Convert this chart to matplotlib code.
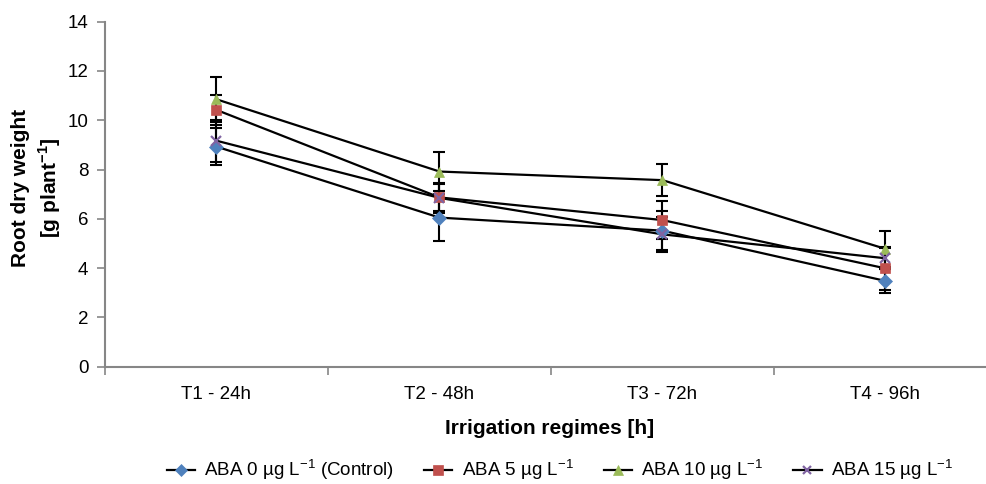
import matplotlib
matplotlib.use("Agg")
import matplotlib.pyplot as plt
from matplotlib.lines import Line2D
import numpy as np

plt.rcParams['font.family'] = ['Liberation Sans', 'DejaVu Sans']
plt.rcParams['mathtext.fontset'] = 'custom'
plt.rcParams['mathtext.rm'] = 'Liberation Sans'
plt.rcParams['mathtext.bf'] = 'Liberation Sans:bold'

categories = ["T1 - 24h", "T2 - 48h", "T3 - 72h", "T4 - 96h"]
series_labels = [r"ABA 0 µg L$^{\mathregular{-1}}$ (Control)",
                 r"ABA 5 µg L$^{\mathregular{-1}}$",
                 r"ABA 10 µg L$^{\mathregular{-1}}$",
                 r"ABA 15 µg L$^{\mathregular{-1}}$"]
aba0 = [8.93, 6.05, 5.52, 3.48]
err0 = [0.75, 0.95, 0.80, 0.50]
aba5 = [10.42, 6.87, 5.95, 3.99]
err5 = [0.60, 0.55, 0.77, 0.88]
aba10 = [10.85, 7.92, 7.57, 4.78]
err10 = [0.90, 0.80, 0.64, 0.73]
aba15 = [9.17, 6.85, 5.37, 4.40]
err15 = [0.85, 0.60, 0.70, 0.43]
yticks = [0, 2, 4, 6, 8, 10, 12, 14]

values = [aba0, aba5, aba10, aba15]
errors = [err0, err5, err10, err15]
markers = ['D', 's', '^', 'x']
colors = ['#4F81BD', '#C0504D', '#9BBB59', '#8064A2']
msizes = [7, 7.5, 7.5, 7]

W, H = 987, 484
fig = plt.figure(figsize=(W / 100, H / 100), dpi=100)
ax = fig.add_axes([105 / W, 1 - 366.7 / H, 892 / W, 345 / H])

x = np.arange(1, len(categories) + 1)
for vals, errs, m, c, ms in zip(values, errors, markers, colors, msizes):
    ax.plot(x, vals, color='black', lw=1.6, zorder=2)
    ax.errorbar(x, vals, yerr=errs, fmt='none', ecolor='black', elinewidth=1.5,
                capsize=4, capthick=1.5, zorder=3)
    ax.plot(x, vals, linestyle='none', marker=m, color=c, markersize=ms,
            markeredgewidth=1.6 if m == 'x' else 0.5, markeredgecolor=c, zorder=4)

ax.set_xlim(0.5, len(categories) + 0.5)
ax.set_ylim(0, 14)
ax.set_yticks(yticks)
ax.set_yticklabels([str(v) for v in yticks])
ax.set_xticks(x)
ax.set_xticklabels(categories)
ax.set_xticks(np.arange(0.5, len(categories) + 1, 1), minor=True)
ax.tick_params(axis='x', which='major', length=0, pad=14, labelsize=13.5)
ax.tick_params(axis='x', which='minor', length=6, width=1.2, color='#868686', direction='out')
ax.tick_params(axis='y', length=6, width=1.2, color='#868686', direction='out', pad=6, labelsize=13.5)
for s in ['top', 'right']:
    ax.spines[s].set_visible(False)
for s in ['left', 'bottom']:
    ax.spines[s].set_color('#868686')
    ax.spines[s].set_linewidth(1.5)

fig.text(550 / W, 1 - 428 / H, "Irrigation regimes [h]", ha='center', va='center',
         fontsize=15, fontweight='bold')
fig.text(37 / W, 1 - 188 / H, "Root dry weight\n[g plant$^{\\mathregular{-1}}$]", ha='center',
         va='center', rotation=90, fontsize=15, fontweight='bold', linespacing=1.35)

handles = [Line2D([0], [0], color='black', lw=1.6, marker=m, markerfacecolor=c,
                  markeredgecolor=c, markersize=ms * 0.9,
                  markeredgewidth=1.6 if m == 'x' else 0.5)
           for m, c, ms in zip(markers, colors, msizes)]
fig.legend(handles, series_labels, loc='center', bbox_to_anchor=(560 / W, 1 - 470 / H),
           ncol=4, frameon=False, fontsize=13.5, handlelength=1.5, handletextpad=0.5,
           columnspacing=1.6, borderaxespad=0, borderpad=0)

fig.savefig("out.png", dpi=100, facecolor='white')
